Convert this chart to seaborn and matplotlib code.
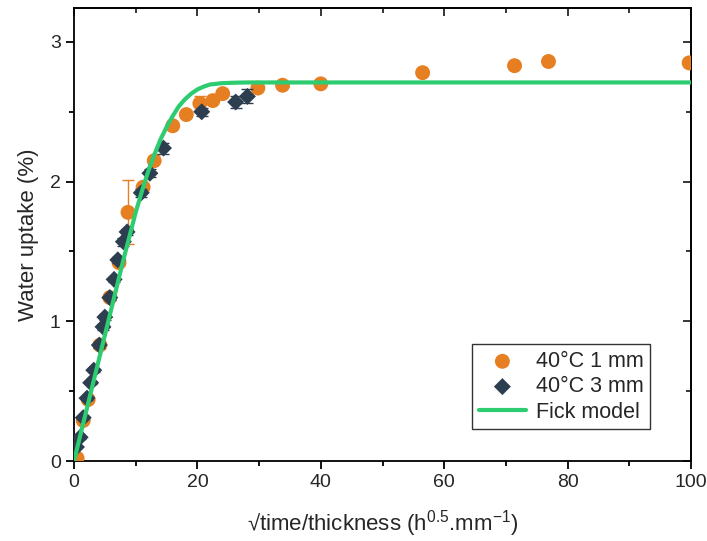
import matplotlib
matplotlib.use("Agg")
import matplotlib.pyplot as plt
import seaborn as sns
import pandas as pd
from matplotlib.ticker import MultipleLocator

# 40°C 1 mm samples (orange circles)
x_1mm = [0.5, 1.5, 2.3, 4.2, 5.8, 7.3, 8.75, 11.2, 13.0, 16.0, 18.2, 20.4, 22.5, 24.1,
         29.8, 33.8, 40.0, 56.5, 71.4, 76.9, 99.7]
y_1mm = [0.02, 0.29, 0.44, 0.83, 1.17, 1.42, 1.78, 1.96, 2.15, 2.40, 2.48, 2.56, 2.58, 2.63,
         2.67, 2.69, 2.70, 2.78, 2.83, 2.86, 2.85]
err_1mm = [0.01, 0.01, 0.01, 0.01, 0.02, 0.02, 0.23, 0.02, 0.02, 0.01, 0.01, 0.05, 0.01, 0.01,
           0.01, 0.01, 0.01, 0.01, 0.01, 0.01, 0.01]

# 40°C 3 mm samples (dark diamonds)
x_3mm = [0.4, 1.0, 1.5, 2.1, 2.7, 3.2, 4.1, 4.7, 5.0, 5.8, 6.5, 7.1, 8.0, 8.6, 10.9, 12.3,
         14.5, 20.7, 26.2, 28.1]
y_3mm = [0.10, 0.17, 0.31, 0.45, 0.56, 0.65, 0.83, 0.96, 1.03, 1.17, 1.30, 1.44, 1.57, 1.64,
         1.92, 2.06, 2.24, 2.50, 2.57, 2.61]
err_3mm = [0.01, 0.01, 0.01, 0.01, 0.01, 0.01, 0.02, 0.02, 0.02, 0.02, 0.02, 0.02, 0.03, 0.02,
           0.03, 0.03, 0.04, 0.03, 0.04, 0.05]

# Fick model curve
x_fick = [0, 1, 2, 3, 4, 5, 6, 7, 8, 9, 10, 11, 12, 13, 14, 15, 16, 17, 18, 19, 20, 21, 22,
          24, 26, 28, 30, 35, 40, 60, 80, 100]
y_fick = [0.0, 0.18, 0.36, 0.54, 0.72, 0.90, 1.08, 1.26, 1.44, 1.61, 1.78, 1.93, 2.07, 2.19,
          2.30, 2.39, 2.47, 2.54, 2.59, 2.63, 2.66, 2.68, 2.695, 2.705, 2.708, 2.71, 2.71,
          2.71, 2.71, 2.71, 2.71, 2.71]

orange = "#e67e22"
navy = "#2c3e50"
green = "#2ecc71"

sns.set_style("white")
plt.rcParams["font.family"] = ["Liberation Sans", "DejaVu Sans"]
plt.rcParams["mathtext.fontset"] = "custom"
plt.rcParams["mathtext.rm"] = "Liberation Sans"
plt.rcParams["mathtext.it"] = "Liberation Sans"

df1 = pd.DataFrame({"x": x_1mm, "y": y_1mm})
df3 = pd.DataFrame({"x": x_3mm, "y": y_3mm})
dff = pd.DataFrame({"x": x_fick, "y": y_fick})

fig = plt.figure(figsize=(7.07, 5.41), dpi=100)
ax = fig.add_axes([74 / 707, 80 / 541, 617 / 707, 453 / 541])

ax.errorbar(x_1mm, y_1mm, yerr=err_1mm, fmt="none", ecolor=orange, elinewidth=1,
            capsize=4, capthick=1, zorder=2)
sns.scatterplot(data=df1, x="x", y="y", ax=ax, color=orange, marker="o", s=115,
                edgecolor="none", label="40°C 1 mm", zorder=3)
ax.errorbar(x_3mm, y_3mm, yerr=err_3mm, fmt="none", ecolor=navy, elinewidth=1,
            capsize=4, capthick=1, zorder=4)
sns.scatterplot(data=df3, x="x", y="y", ax=ax, color=navy, marker="D", s=75,
                edgecolor="none", label="40°C 3 mm", zorder=5)
sns.lineplot(data=dff, x="x", y="y", ax=ax, color=green, linewidth=3,
             label="Fick model", zorder=6)

ax.set_xlim(0, 100)
ax.set_ylim(0, 3.243)
ax.xaxis.set_major_locator(MultipleLocator(20))
ax.xaxis.set_minor_locator(MultipleLocator(10))
ax.yaxis.set_major_locator(MultipleLocator(1))
ax.yaxis.set_minor_locator(MultipleLocator(0.5))

for s in ax.spines.values():
    s.set_color("black")
    s.set_linewidth(1.3)

ax.tick_params(which="both", bottom=True, left=True, top=False, right=False,
               direction="out", color="black", width=1.3, labelsize=14)
ax.tick_params(which="major", length=6)
ax.tick_params(which="minor", length=3.5)

# inward ticks on top and right
ax_top = ax.secondary_xaxis("top")
ax_top.set_xticks([0, 20, 40, 60, 80, 100])
ax_top.xaxis.set_minor_locator(MultipleLocator(10))
ax_top.tick_params(which="both", direction="in", width=1.3, labeltop=False)
ax_top.tick_params(which="major", length=6)
ax_top.tick_params(which="minor", length=3.5)
ax_top.spines["top"].set_linewidth(1.3)
ax_right = ax.secondary_yaxis("right")
ax_right.set_yticks([0, 1, 2, 3])
ax_right.yaxis.set_minor_locator(MultipleLocator(0.5))
ax_right.tick_params(which="both", direction="in", width=1.3, labelright=False)
ax_right.tick_params(which="major", length=6)
ax_right.tick_params(which="minor", length=3.5)
ax_right.spines["right"].set_linewidth(1.3)

ax.set_xlabel("√time/thickness (h$^{0.5}$.mm$^{-1}$)", fontsize=16, labelpad=12)
ax.set_ylabel("Water uptake (%)", fontsize=16, labelpad=8)

leg = ax.legend(loc="lower right", bbox_to_anchor=(0.9335, 0.0706), fontsize=15.5,
                frameon=True, fancybox=False, edgecolor="black", borderpad=0.3,
                handlelength=2.2, handletextpad=0.45, labelspacing=0.2,
                borderaxespad=0)
leg.get_frame().set_linewidth(1.0)

fig.savefig("out.png", dpi=100)
